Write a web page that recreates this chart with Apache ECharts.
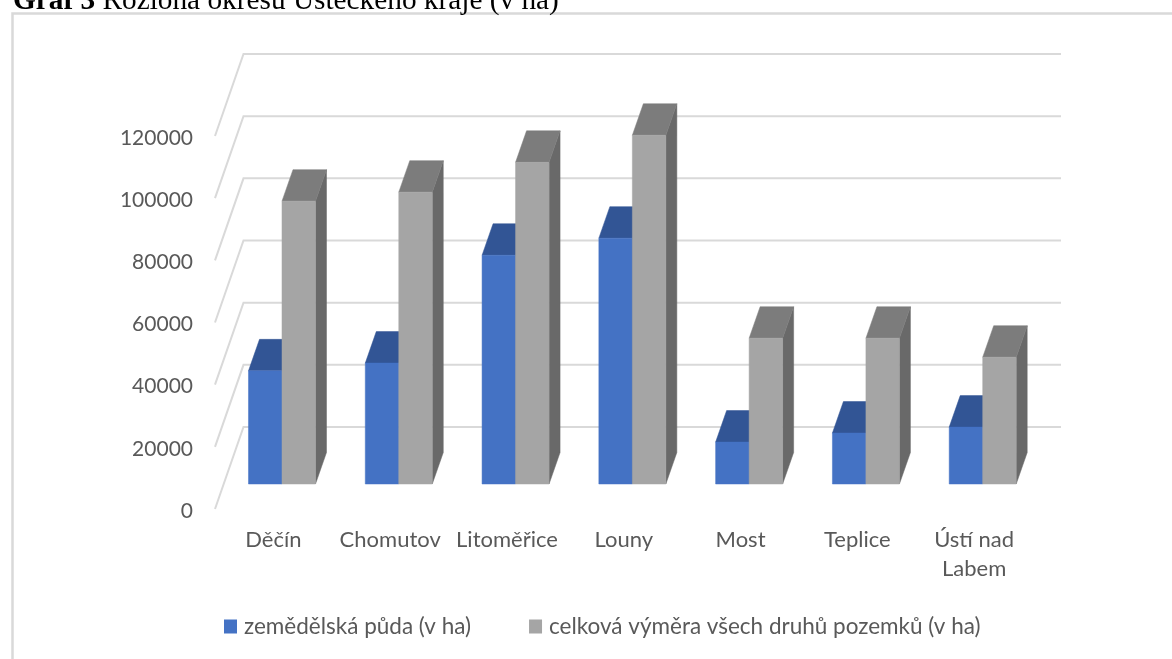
<!DOCTYPE html>
<html>
<head>
<meta charset="utf-8">
<style>html,body{margin:0;padding:0;background:#fff}#chart{width:1172px;height:659px}</style>
<script src="https://cdn.jsdelivr.net/npm/echarts@6/dist/echarts.min.js"></script>
</head>
<body>
<div id="chart"></div>
<script>
const districts = ['Děčín', 'Chomutov', 'Litoměřice', 'Louny', 'Most', 'Teplice', 'Ústí nad\nLabem'];
const farmland = [36400, 38900, 73600, 79100, 13500, 16400, 18300];
const totalArea = [91000, 93900, 103500, 112200, 46900, 46900, 40800];
const axisTicks = [0, 20000, 40000, 60000, 80000, 100000, 120000];
const seriesNames = ['zemědělská půda (v ha)', 'celková výměra všech druhů pozemků (v ha)'];

// Oblique projection: how far the back wall and the bars sit behind the front plane.
const WALL = { dx: 28.5, dy: -82 };
const BAR_PLANE = { dx: 8.6, dy: -25 };
const BAR_DEPTH = { dx: 11, dy: -31.5 };
const BAR_WIDTH = 33.5;

function poly(points, fill) {
  return { type: 'polygon', shape: { points }, style: { fill, stroke: fill, lineWidth: 0.5 } };
}

function barRenderer(side, colors) {
  return function (params, api) {
    const base = api.coord([api.value(0), 0]);
    const top = api.coord([api.value(0), api.value(1)]);
    const x0 = base[0] + BAR_PLANE.dx + (side < 0 ? -BAR_WIDTH : 0);
    const x1 = x0 + BAR_WIDTH;
    const y0 = base[1] + BAR_PLANE.dy;
    const y1 = top[1] + BAR_PLANE.dy;
    const d = BAR_DEPTH;
    return {
      type: 'group',
      children: [
        poly([[x1, y0], [x1 + d.dx, y0 + d.dy], [x1 + d.dx, y1 + d.dy], [x1, y1]], colors.side),
        poly([[x0, y1], [x0 + d.dx, y1 + d.dy], [x1 + d.dx, y1 + d.dy], [x1, y1]], colors.top),
        poly([[x0, y0], [x1, y0], [x1, y1], [x0, y1]], colors.front)
      ]
    };
  };
}

function wallRenderer(params, api) {
  const box = params.coordSys;
  const y = api.coord([0, api.value(0)])[1];
  return {
    type: 'polyline',
    shape: {
      points: [[box.x, y], [box.x + WALL.dx, y + WALL.dy], [box.x + box.width + WALL.dx, y + WALL.dy]]
    },
    style: { fill: 'none', stroke: '#d9d9d9', lineWidth: 2 }
  };
}

const chart = echarts.init(document.getElementById('chart'), null, { renderer: 'canvas' });
chart.setOption({
  backgroundColor: '#fff',
  animation: false,
  textStyle: { fontFamily: 'Lato' },
  title: {
    left: 8,
    top: -18,
    text: '{b|Graf 3} Rozloha okresů Ústeckého kraje (v ha)',
    textStyle: {
      fontFamily: 'Liberation Serif',
      fontWeight: 'normal',
      fontSize: 29.3,
      color: '#000',
      rich: { b: { fontFamily: 'Liberation Serif', fontWeight: 'bold', fontSize: 29.3, color: '#000' } }
    }
  },
  graphic: [{
    type: 'polyline',
    silent: true,
    shape: { points: [[12.5, 659], [12.5, 13.5], [1172, 13.5]] },
    style: { fill: 'none', stroke: '#d9d9d9', lineWidth: 2.5 }
  }],
  legend: {
    left: 219,
    top: 610,
    itemWidth: 13,
    itemHeight: 14,
    itemGap: 58,
    icon: 'rect',
    data: seriesNames,
    textStyle: { fontFamily: 'Lato', fontSize: 22.5, color: '#595959', padding: [0, 0, 0, 2] }
  },
  grid: { left: 215, top: 136, width: 817.5, height: 373 },
  xAxis: {
    type: 'category',
    data: districts,
    axisLine: { show: false },
    axisTick: { show: false },
    axisLabel: { interval: 0, margin: 16, fontFamily: 'Lato', fontSize: 22, lineHeight: 29, color: '#595959' }
  },
  yAxis: {
    type: 'value',
    min: 0,
    max: 120000,
    interval: 20000,
    axisLine: { show: false },
    axisTick: { show: false },
    splitLine: { show: false },
    axisLabel: {
      margin: 22,
      formatter: value => '{n|' + value + '}',
      rich: {
        n: { fontFamily: 'Lato', fontSize: 21, color: '#595959', padding: [4, 0, 0, 0] }
      }
    }
  },
  series: [
    {
      type: 'custom',
      silent: true,
      z: 1,
      renderItem: wallRenderer,
      encode: { y: 0 },
      data: axisTicks.map(v => [v])
    },
    {
      name: seriesNames[0],
      type: 'custom',
      z: 2,
      itemStyle: { color: '#4472c4' },
      renderItem: barRenderer(-1, { front: '#4472c4', top: '#325595', side: '#2a4a82' }),
      encode: { x: 0, y: 1 },
      data: farmland.map((v, i) => [i, v])
    },
    {
      name: seriesNames[1],
      type: 'custom',
      z: 3,
      itemStyle: { color: '#a5a5a5' },
      renderItem: barRenderer(1, { front: '#a5a5a5', top: '#7c7c7c', side: '#696969' }),
      encode: { x: 0, y: 1 },
      data: totalArea.map((v, i) => [i, v])
    }
  ]
});
</script>
</body>
</html>
